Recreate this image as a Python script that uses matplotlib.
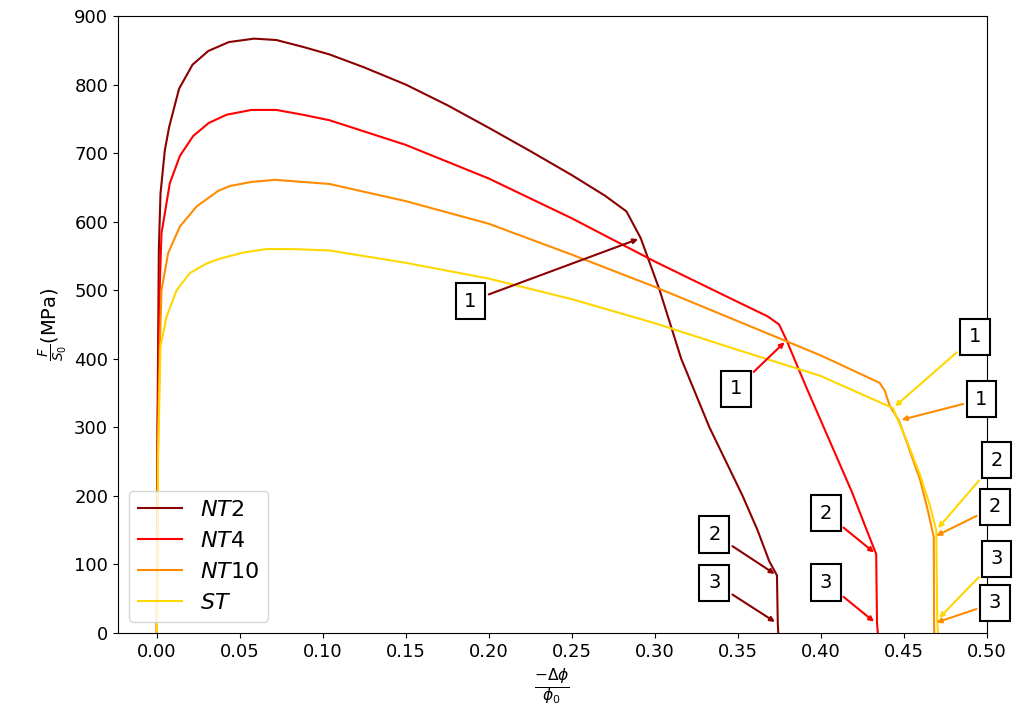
import matplotlib
matplotlib.use("Agg")
from matplotlib import pyplot as plt

plt.rcParams['font.size'] = 13

# strain / stress curves
nt2_x = [0.0, 0.0004, 0.0012, 0.0022, 0.0048, 0.0074, 0.0134, 0.0215, 0.031, 0.0434,
         0.0586, 0.072, 0.088, 0.104, 0.125, 0.15, 0.175, 0.2, 0.225, 0.25,
         0.27, 0.283, 0.2916, 0.297, 0.303, 0.316, 0.333, 0.343, 0.353, 0.362,
         0.369, 0.3737, 0.3742, 0.3745]
nt2_y = [0, 300, 560, 641, 704, 738, 794, 829, 849, 862,
         867, 865, 855, 844, 825, 800, 770, 737, 703, 668,
         638, 615, 576, 540, 500, 400, 300, 250, 200, 150,
         105, 84, 14, 0]

nt4_x = [0.0, 0.0005, 0.0018, 0.0028, 0.0078, 0.0139, 0.0219, 0.0313, 0.042, 0.057,
         0.072, 0.088, 0.104, 0.15, 0.2, 0.25, 0.3, 0.35, 0.368, 0.375,
         0.3795, 0.385, 0.392, 0.401, 0.41, 0.419, 0.427, 0.4335, 0.434, 0.4345]
nt4_y = [0, 300, 510, 583, 656, 696, 725, 744, 756, 763,
         763, 756, 748, 712, 663, 605, 542, 483, 462, 450,
         427, 395, 355, 305, 255, 205, 155, 115, 14, 0]

nt10_x = [0.0, 0.0006, 0.0018, 0.0028, 0.0068, 0.0139, 0.0239, 0.037, 0.044, 0.057,
          0.071, 0.088, 0.104, 0.15, 0.2, 0.25, 0.3, 0.35, 0.4, 0.4355,
          0.4386, 0.4416, 0.4472, 0.4536, 0.46, 0.4645, 0.4682, 0.4684, 0.4685]
nt10_y = [0, 260, 420, 500, 554, 593, 622, 645, 652, 658,
          661, 658, 655, 630, 597, 552, 505, 455, 405, 365,
          354, 332, 310, 267, 223, 180, 140, 14, 0]

st_x = [0.0, 0.0008, 0.0022, 0.0058, 0.0119, 0.0199, 0.03, 0.038, 0.052, 0.066,
        0.082, 0.104, 0.15, 0.2, 0.25, 0.3, 0.35, 0.4, 0.4436, 0.452,
        0.46, 0.466, 0.4697, 0.4703, 0.4707]
st_y = [0, 260, 418, 461, 500, 525, 539, 546, 555, 560,
        560, 558, 540, 517, 487, 452, 413, 375, 328, 280,
        230, 185, 150, 19, 0]

curves = [(nt2_x, nt2_y, r'$NT2$', 'darkred'),
          (nt4_x, nt4_y, r'$NT4$', 'red'),
          (nt10_x, nt10_y, r'$NT10$', 'darkorange'),
          (st_x, st_y, r'$ST$', 'gold')]

# (label, text position, arrow target, colour)
notes = [('1', (0.189, 484), (0.2916, 576), 'darkred'),
         ('2', (0.336, 144), (0.3737, 84), 'darkred'),
         ('3', (0.336, 73), (0.3739, 14), 'darkred'),
         ('1', (0.349, 356), (0.3795, 427), 'red'),
         ('2', (0.403, 175), (0.4335, 115), 'red'),
         ('3', (0.403, 74), (0.4335, 14), 'red'),
         ('1', (0.497, 341), (0.4472, 310), 'darkorange'),
         ('2', (0.505, 184), (0.4682, 140), 'darkorange'),
         ('3', (0.505, 44), (0.4682, 14), 'darkorange'),
         ('1', (0.4928, 432), (0.4436, 328), 'gold'),
         ('2', (0.506, 252), (0.4697, 150), 'gold'),
         ('3', (0.506, 108), (0.4703, 19), 'gold')]

fig, ax = plt.subplots(figsize=(10.16, 7.28), dpi=100)
fig.subplots_adjust(left=0.116, right=0.971, top=0.978, bottom=0.1305)

for x, y, lab, c in curves:
    ax.plot(x, y, color=c, lw=1.5, label=lab)

for txt, pos, tgt, c in notes:
    ax.annotate(txt, xy=tgt, xytext=pos, fontsize=14, ha='center', va='center',
                bbox=dict(boxstyle='square,pad=0.45', fc='white', ec='black', lw=1.5),
                arrowprops=dict(arrowstyle='-|>', color=c, lw=1.5, mutation_scale=7),
                annotation_clip=False)

ax.set_xlim(-0.0235, 0.5)
ax.set_ylim(0, 900)
ax.set_xticks([0.0, 0.05, 0.1, 0.15, 0.2, 0.25, 0.3, 0.35, 0.4, 0.45, 0.5])
ax.set_xticklabels(['0.00', '0.05', '0.10', '0.15', '0.20', '0.25', '0.30', '0.35', '0.40', '0.45', '0.50'])
ax.set_xlabel(r'$\frac{-\Delta\phi}{\phi_0}$', fontsize=16)
ax.set_ylabel(r'$\frac{F}{S_0}$(MPa)', fontsize=14)
ax.legend(loc='lower left', fontsize=16, labelspacing=0.5)

fig.savefig('out.png', dpi=100)
